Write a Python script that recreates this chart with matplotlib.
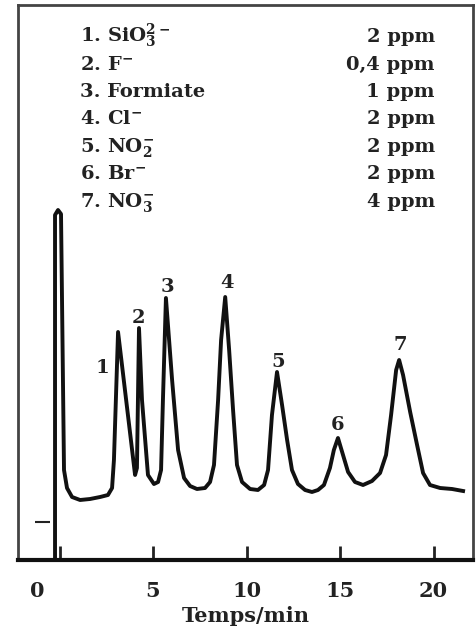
import numpy as np
import matplotlib.pyplot as plt
import matplotlib.transforms as mtransforms

plt.rcParams['font.family'] = ['DejaVu Serif']
plt.rcParams['font.weight'] = 'bold'
plt.rcParams['mathtext.fontset'] = 'dejavuserif'
plt.rcParams['mathtext.default'] = 'bf'

# chromatogram trace (time in min, signal in arbitrary units)
temps = [-0.24, -0.24, -0.08, 0.08, 0.24, 0.40, 0.67, 1.10, 1.63, 2.17, 2.59, 2.81, 2.91,
         3.13, 4.04, 4.14, 4.25, 4.41, 4.73, 5.05, 5.27, 5.43, 5.53, 5.69, 6.02, 6.34,
         6.66, 6.98, 7.35, 7.78, 8.05, 8.26, 8.48, 8.64, 8.86, 9.07, 9.28, 9.49, 9.76,
         10.19, 10.61, 10.94, 11.15, 11.36, 11.63, 11.90, 12.17, 12.43, 12.75, 13.13,
         13.50, 13.82, 14.14, 14.46, 14.67, 14.89, 15.16, 15.43, 15.80, 16.23, 16.71,
         17.14, 17.46, 17.73, 18.00, 18.16, 18.37, 18.75, 19.12, 19.44, 19.81, 20.35,
         20.99, 21.58]
signal = [0, 345, 350, 346, 90, 72, 63, 60, 61, 63, 65, 72, 100,
          228, 85, 92, 232, 160, 85, 76, 78, 90, 160, 262, 180, 110,
          82, 74, 71, 72, 78, 95, 160, 220, 263, 210, 150, 95, 78,
          71, 70, 75, 90, 145, 188, 155, 120, 90, 76, 70,
          68, 70, 75, 92, 110, 122, 105, 88, 78, 75, 79,
          87, 105, 145, 190, 200, 185, 148, 115, 87, 75, 72,
          71, 69]

# peak numbers
pic_num = ['1', '2', '3', '4', '5', '6', '7']
pic_t = [2.27, 4.2, 5.75, 8.96, 11.68, 14.89, 18.2]
pic_y = [192, 242, 273, 277, 198, 135, 215]

# legend
ions = [r'1. SiO$_3^{2-}$', r'2. F$^{-}$', '3. Formiate', r'4. Cl$^{-}$',
        r'5. NO$_2^{-}$', r'6. Br$^{-}$', r'7. NO$_3^{-}$']
conc = ['2 ppm', '0,4 ppm', '1 ppm', '2 ppm', '2 ppm', '2 ppm', '4 ppm']

xticks = [0, 5, 10, 15, 20]
y_tick = 38

fig = plt.figure(figsize=(4.76, 6.27), dpi=100)
ax = fig.add_axes([18 / 476, 67 / 627, 455 / 476, 555 / 627])

ax.plot(temps, signal, color='#111111', lw=2.8, solid_joinstyle='round')
for n, t, y in zip(pic_num, pic_t, pic_y):
    ax.text(t, y, n, ha='center', va='center', fontsize=14, color='#222222')

ax.hlines(y_tick, -1.31, -0.51, color='#222222', lw=1.5)

ax.set_xlim(-2.22, 22.11)
ax.set_ylim(0, 555)
ax.set_yticks([])
ax.set_xticks(xticks)
ax.set_xticklabels([str(v) for v in xticks], fontsize=15, color='#222222')
ax.tick_params(axis='x', direction='in', length=10, width=2, pad=15, color='#222222')
lab0 = ax.get_xticklabels()[0]
lab0.set_transform(lab0.get_transform() +
                   mtransforms.ScaledTranslation(-0.22, 0, fig.dpi_scale_trans))
ax.set_xlabel('Temps/min', fontsize=15, fontweight='bold', color='#222222', labelpad=4)

for side in ['left', 'right', 'top']:
    ax.spines[side].set_linewidth(2)
    ax.spines[side].set_color('#444444')
ax.spines['bottom'].set_linewidth(3)
ax.spines['bottom'].set_color('#111111')

for i in range(len(ions)):
    yb = 1 - (42 + 27.5 * i) / 627
    fig.text(80 / 476, yb, ions[i], fontsize=14, va='baseline', ha='left', color='#222222')
    fig.text(435 / 476, yb, conc[i], fontsize=14, va='baseline', ha='right', color='#222222')

fig.savefig('out.png', dpi=100)
